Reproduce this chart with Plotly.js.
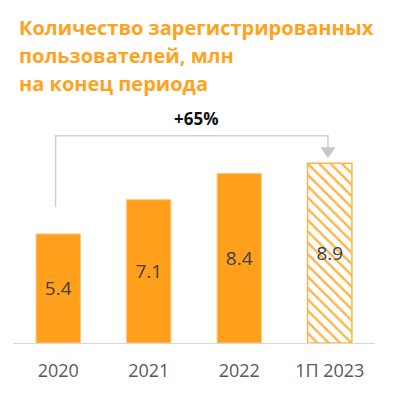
<!DOCTYPE html>
<html>
<head>
<meta charset="utf-8">
<script src="https://cdn.plot.ly/plotly-3.0.1.min.js"></script>
<style>html,body{margin:0;padding:0;background:#fff;}#chart{width:402px;height:394px;}</style>
</head>
<body>
<div id="chart"></div>
<script>
const categories = ["2020", "2021", "2022", "1П 2023"];
const values = [5.4, 7.1, 8.4, 8.9];
const valueLabels = ["5.4", "7.1", "8.4", "8.9"];
const titleLines = ["Количество зарегистрированных", "пользователей, млн", "на конец периода"];
const growthLabel = "+65%";

const ORANGE = "#FF9F1C";
const TITLE_ORANGE = "#FFA31F";

const plotTop = 129, plotBottom = 343;
const py = Y => (plotBottom - Y) / (plotBottom - plotTop);

const solid = {
  type: "bar",
  x: [0, 1, 2],
  y: values.slice(0, 3),
  text: valueLabels.slice(0, 3),
  width: 0.49,
  marker: {color: ORANGE, line: {color: "#FFC680", width: 1}},
  textposition: "inside",
  insidetextanchor: "middle",
  textangle: 0,
  constraintext: "none",
  textfont: {family: "Open Sans", size: 19, color: "#404040"},
  hoverinfo: "none"
};
const hatched = {
  type: "bar",
  x: [3],
  y: values.slice(3),
  text: valueLabels.slice(3),
  width: 0.49,
  marker: {color: "#ffffff", line: {color: "#FFB347", width: 1.5},
           pattern: {shape: "\\", fgcolor: "#FFB347", bgcolor: "#ffffff", size: 8, solidity: 0.3}},
  textposition: "inside",
  insidetextanchor: "middle",
  textangle: 0,
  constraintext: "none",
  textfont: {family: "Open Sans", size: 19, color: "#404040"},
  hoverinfo: "none"
};

const annotations = titleLines.map((t, i) => ({
  text: "<b>" + t + "</b>",
  xref: "paper", yref: "paper",
  x: 4 / 362, xanchor: "left",
  y: py(28 + 28 * i), yanchor: "middle",
  showarrow: false,
  font: {family: "Open Sans", size: 20, color: TITLE_ORANGE}
}));
annotations.push({
  text: "<b>" + growthLabel + "</b>",
  xref: "x", yref: "paper",
  x: 1.52, y: py(118), yanchor: "middle",
  showarrow: false,
  font: {family: "Open Sans", size: 17, color: "#111111"}
});

const layout = {
  width: 402, height: 394,
  margin: {l: 13, r: 27, t: plotTop, b: 394 - plotBottom, pad: 0},
  paper_bgcolor: "#ffffff", plot_bgcolor: "#ffffff",
  showlegend: false,
  barmode: "overlay",
  xaxis: {
    range: [-0.5, 3.5],
    tickvals: [0, 1, 2, 3],
    ticktext: categories,
    showgrid: false, zeroline: false,
    showline: true, linecolor: "#D9D9D9", linewidth: 1,
    ticks: "",
    tickfont: {family: "Open Sans", size: 18, color: "#595959"},
    ticklabelstandoff: 11
  },
  yaxis: {range: [0, 10.6], visible: false, fixedrange: true},
  shapes: [
    {type: "path", xref: "x", yref: "y",
     path: "M -0.03 6.73 L -0.03 10.26 L 2.98 10.26 L 2.98 9.6",
     line: {color: "#D0D0D0", width: 1.5}},
    {type: "path", xref: "x", yref: "y",
     path: "M 2.90 9.68 L 3.06 9.68 L 2.98 9.17 Z",
     fillcolor: "#C8C8C8", line: {color: "#C8C8C8", width: 0.5}}
  ],
  annotations: annotations
};

Plotly.newPlot("chart", [solid, hatched], layout, {staticPlot: true, displayModeBar: false});
</script>
</body>
</html>
